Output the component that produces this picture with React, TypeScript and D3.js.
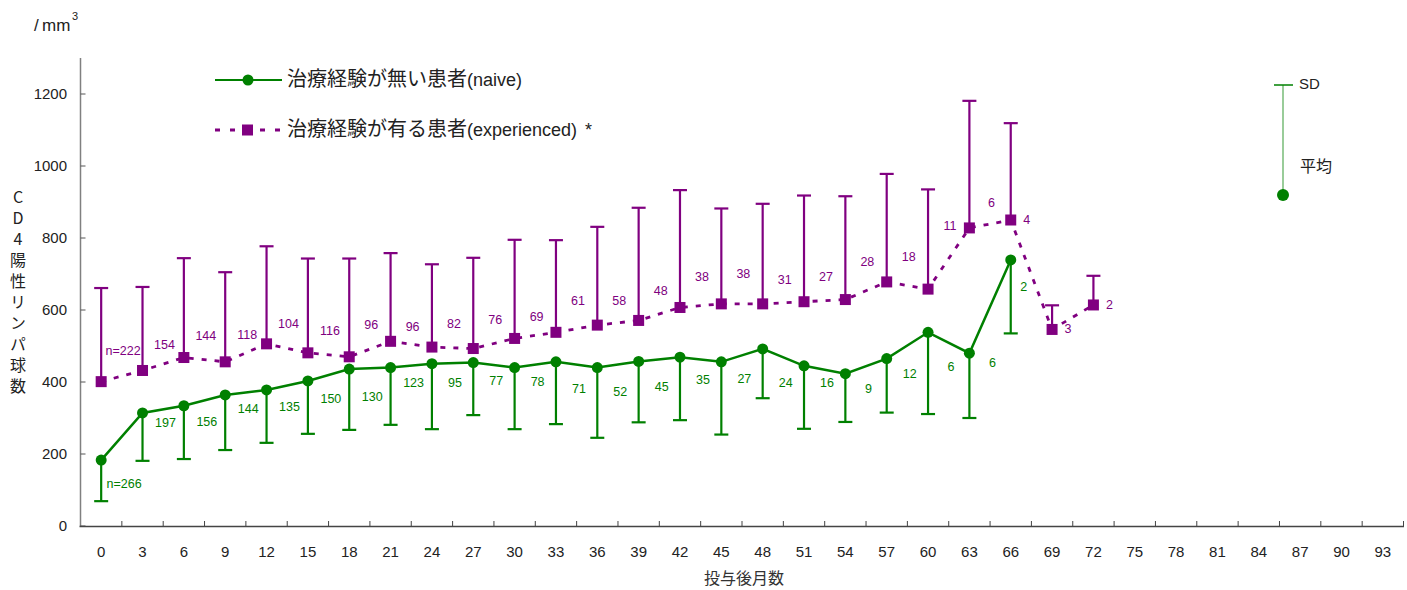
import React from "react";
import * as d3 from "d3";

// ---- data ----
const monthTicks = ["0","3","6","9","12","15","18","21","24","27","30","33","36","39","42","45","48","51","54","57","60","63","66","69","72","75","78","81","84","87","90","93"];
const yTicks = [0, 200, 400, 600, 800, 1000, 1200];

const naiveMonths = ["0","3","6","9","12","15","18","21","24","27","30","33","36","39","42","45","48","51","54","57","60","63","66"];
const naiveMean = [183,314,334,364,378,403,436,440,451,454,440,456,440,457,469,456,492,445,423,465,538,480,739];
const naiveSD = [114,133,148,153,147,147,169,159,182,146,171,173,195,169,175,202,137,175,134,150,227,180,204];
const naiveN = ["n=266","197","156","144","135","150","130","123","95","77","78","71","52","45","35","27","24","16","9","12","6","6","2"];
// annotation anchor (value level where each n label sits)
const naiveLabelAt = [117,286,289,325,331,355,359,399,399,404,401,381,373,387,406,410,399,399,381,424,443,455,664];

const expMonths = ["0","3","6","9","12","15","18","21","24","27","30","33","36","39","42","45","48","51","54","57","60","63","66","69","72"];
const expMean = [401,432,468,456,506,481,470,513,497,493,521,538,558,571,607,617,617,623,629,678,658,828,850,546,614];
const expSD = [260,232,276,249,271,262,273,245,230,252,274,256,273,313,326,265,278,295,287,300,277,353,269,67,81];
const expN = ["n=222","154","144","118","104","116","96","96","82","76","69","61","58","48","38","38","31","27","28","18","11","6","4","3","2"];
const expLabelAt = [487,503,528,532,562,542,558,554,563,572,581,625,625,653,692,700,683,692,733,749,835,899,852,547,614];

const yTitle = "CD4陽性リンパ球数";

const GREEN = "#008000";
const PURPLE = "#800080";
const FONT = "'Liberation Sans', Arial, 'Noto Sans CJK JP', sans-serif";
const JFONT = "'Noto Sans CJK JP', 'Liberation Sans', sans-serif";

export default function App() {
  const W = 1407, H = 590;
  const x = d3.scaleBand<string>().domain(monthTicks).range([80.5, 1403.5]).padding(0);
  const bw = x.bandwidth();
  const cx = (m: string) => (x(m) as number) + bw / 2;
  const y = d3.scaleLinear().domain([0, 1300]).range([526, 58]);

  const lineGen = d3.line<[number, number]>().x(d => d[0]).y(d => d[1]);
  const naivePts: [number, number][] = naiveMonths.map((m, i) => [cx(m), y(naiveMean[i])]);
  const expPts: [number, number][] = expMonths.map((m, i) => [cx(m), y(expMean[i])]);

  const capW = 7;
  const nLast = naiveMonths.length - 1;
  const eLast = expMonths.length - 1;

  return (
    <svg width={W} height={H} style={{ display: "block", position: "absolute", left: 0, top: 0 }} fontFamily={FONT}>
      <rect width={W} height={H} fill="#fff" />
      {/* unit */}
      <text x={34} y={31} fontSize={17} fill="#222">/</text>
      <text x={42} y={31} fontSize={17} fill="#222">mm</text>
      <text x={72} y={20} fontSize={11} fill="#222">3</text>

      {/* y axis */}
      <line x1={80.5} x2={80.5} y1={58} y2={526} stroke="#808080" strokeWidth={1.5} />
      {yTicks.map(t => (
        <g key={t}>
          <line x1={80.5} x2={85.5} y1={y(t)} y2={y(t)} stroke="#555" strokeWidth={1} />
          <text x={67} y={y(t)} dy="0.35em" textAnchor="end" fontSize={15} fill="#222">{t}</text>
        </g>
      ))}
      <text x={18} y={189} fontSize={16} fontFamily={JFONT} fill="#222"
        style={{ writingMode: "vertical-rl", textOrientation: "upright", letterSpacing: "5px" } as any}>{yTitle}</text>

      {/* x axis */}
      <line x1={79.5} x2={1404} y1={526.5} y2={526.5} stroke="#444" strokeWidth={1.5} />
      {monthTicks.map((m, i) => (
        <g key={m}>
          {i > 0 && <line x1={x(m) as number} x2={x(m) as number} y1={526} y2={521} stroke="#444" strokeWidth={1} />}
          <text x={cx(m)} y={552} dy="0.35em" textAnchor="middle" fontSize={15} fill="#222">{m}</text>
        </g>
      ))}
      <line x1={1403.5} x2={1403.5} y1={526} y2={521} stroke="#444" strokeWidth={1} />
      <text x={744} y={578} dy="0.35em" textAnchor="middle" fontSize={16} fontFamily={JFONT} fill="#333">投与後月数</text>

      {/* experienced error bars (upward) */}
      {expMonths.map((m, i) => {
        const px = cx(m);
        const top = y(expMean[i] + expSD[i]);
        return (
          <g key={"eb" + m} stroke={PURPLE} strokeWidth={2.2}>
            <line x1={px} x2={px} y1={y(expMean[i])} y2={top} />
            <line x1={px - capW} x2={px + capW} y1={top} y2={top} />
          </g>
        );
      })}
      {/* naive error bars (downward) */}
      {naiveMonths.map((m, i) => {
        const px = cx(m);
        const bot = y(naiveMean[i] - naiveSD[i]);
        return (
          <g key={"nb" + m} stroke={GREEN} strokeWidth={2.2}>
            <line x1={px} x2={px} y1={y(naiveMean[i])} y2={bot} />
            <line x1={px - capW} x2={px + capW} y1={bot} y2={bot} />
          </g>
        );
      })}

      {/* lines */}
      <path d={lineGen(expPts) || ""} fill="none" stroke={PURPLE} strokeWidth={2.8} strokeDasharray="5,8" />
      <path d={lineGen(naivePts) || ""} fill="none" stroke={GREEN} strokeWidth={2.5} />

      {/* markers */}
      {expPts.map((p, i) => (
        <rect key={"es" + i} x={p[0] - 5.5} y={p[1] - 5.5} width={11} height={11} fill={PURPLE} />
      ))}
      {naivePts.map((p, i) => (
        <circle key={"nc" + i} cx={p[0]} cy={p[1]} r={5.5} fill={GREEN} />
      ))}

      {/* n labels */}
      {expMonths.map((m, i) => (
        <text key={"el" + m} x={cx(m) + (i >= eLast - 2 ? 16 : 22)} y={y(expLabelAt[i])} dy="0.35em" textAnchor="middle" fontSize={12.5} fill={PURPLE}>{expN[i]}</text>
      ))}
      {naiveMonths.map((m, i) => (
        <text key={"nl" + m} x={cx(m) + (i === nLast ? 13 : 23)} y={y(naiveLabelAt[i])} dy="0.35em" textAnchor="middle" fontSize={12.5} fill={GREEN}>{naiveN[i]}</text>
      ))}

      {/* legend */}
      <line x1={215} x2={282} y1={80} y2={80} stroke={GREEN} strokeWidth={2} />
      <circle cx={248} cy={80} r={5.5} fill={GREEN} />
      <text x={287} y={80} dy="0.35em" fontSize={18} fill="#222">
        <tspan fontFamily={JFONT} fontSize={20}>治療経験が無い患者</tspan><tspan>(naive)</tspan>
      </text>
      <line x1={215} x2={283} y1={130} y2={130} stroke={PURPLE} strokeWidth={2.8} strokeDasharray="5,10" />
      <rect x={242} y={124.5} width={11} height={11} fill={PURPLE} />
      <text x={287} y={130} dy="0.35em" fontSize={18} fill="#222">
        <tspan fontFamily={JFONT} fontSize={20}>治療経験が有る患者</tspan><tspan>(experienced)</tspan><tspan dx={8}>*</tspan>
      </text>

      {/* SD / mean key */}
      <line x1={1283} x2={1283} y1={85} y2={195} stroke={GREEN} strokeWidth={1} strokeOpacity={0.8} />
      <line x1={1274} x2={1293} y1={85} y2={85} stroke={GREEN} strokeWidth={1.5} />
      <circle cx={1283} cy={195} r={6} fill={GREEN} />
      <text x={1299} y={84} dy="0.35em" fontSize={15} fill="#222">SD</text>
      <text x={1300} y={166} dy="0.35em" fontSize={16} fontFamily={JFONT} fill="#222">平均</text>
    </svg>
  );
}
